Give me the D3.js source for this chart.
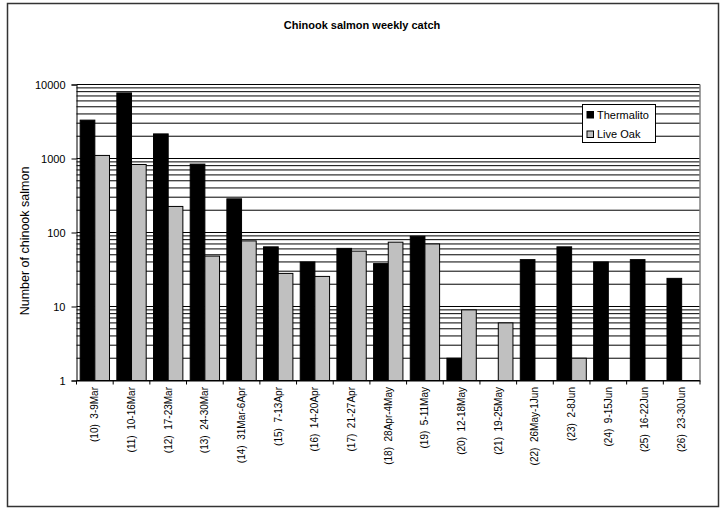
<!DOCTYPE html>
<html>
<head>
<meta charset="utf-8">
<script src="https://cdn.jsdelivr.net/npm/d3@7"></script>
<style>
  html, body { margin: 0; padding: 0; background: #fff; }
  svg { display: block; font-family: Arial, "Liberation Sans", sans-serif; }
</style>
</head>
<body>
<svg id="chart" width="720" height="508"></svg>
<script>
const categories = [
  "(10)  3-9Mar", "(11)  10-16Mar", "(12)  17-23Mar", "(13)  24-30Mar",
  "(14)  31Mar-6Apr", "(15)  7-13Apr", "(16)  14-20Apr", "(17)  21-27Apr",
  "(18)  28Apr-4May", "(19)  5-11May", "(20)  12-18May", "(21)  19-25May",
  "(22)  26May-1Jun", "(23)  2-8Jun", "(24)  9-15Jun", "(25)  16-22Jun",
  "(26)  23-30Jun"
];
const thermalito = [3300, 7700, 2150, 840, 285, 64, 40, 61, 38, 89, 2, null, 43, 64, 40, 43, 24];
const liveOak    = [1100, 830, 225, 48, 77, 28, 25.5, 56, 74, 70, 9, 6, null, 2, null, null, null];
const seriesNames = ["Thermalito", "Live Oak"];
const seriesColors = ["#000000", "#c0c0c0"];
const yTicks = [1, 10, 100, 1000, 10000];
const titleText = "Chinook salmon weekly catch";
const yTitle = "Number of chinook salmon";

(function () {
const svg = d3.select("#chart");

// outer border
svg.append("rect")
  .attr("x", 7.5).attr("y", 3.5).attr("width", 711).attr("height", 503)
  .attr("fill", "#fff").attr("stroke", "#333").attr("stroke-width", 1.5);

const pL = 76.5, pR = 700, pT = 84.5, pB = 380.5;

const y = d3.scaleLog().domain([1, 10000]).range([pB, pT]);
const x = d3.scaleBand().domain(categories).range([pL, pR]).paddingInner(0).paddingOuter(0);
const bw = x.bandwidth();

// plot background
svg.append("rect").attr("x", pL).attr("y", pT).attr("width", pR - pL).attr("height", pB - pT).attr("fill", "#fff");

// gridlines (major + minor)
const gridVals = [];
[1, 10, 100, 1000].forEach(d => { for (let k = 1; k <= 9; k++) gridVals.push(d * k); });
gridVals.push(10000);
svg.append("g").selectAll("line").data(gridVals).join("line")
  .attr("x1", pL).attr("x2", pR)
  .attr("y1", d => y(d)).attr("y2", d => y(d))
  .attr("stroke", "#000").attr("stroke-width", 1);

// plot right border
svg.append("line").attr("x1", pR).attr("x2", pR).attr("y1", pT).attr("y2", pB)
  .attr("stroke", "#808080").attr("stroke-width", 1.5);

// bars
const series = [thermalito, liveOak];
series.forEach((vals, si) => {
  svg.append("g").selectAll("rect")
    .data(vals.map((v, i) => ({ v, c: categories[i] })).filter(d => d.v != null))
    .join("rect")
    .attr("x", d => x(d.c) + bw * (0.1 + 0.4 * si))
    .attr("width", bw * 0.4)
    .attr("y", d => y(d.v))
    .attr("height", d => pB - y(d.v))
    .attr("fill", seriesColors[si])
    .attr("stroke", "#000").attr("stroke-width", 1);
});

// y axis
const yAxis = d3.axisLeft(y).tickValues(yTicks).tickFormat(d3.format("d")).tickSize(5).tickPadding(6);
const gy = svg.append("g").attr("transform", `translate(${pL},0)`).call(yAxis);
gy.select(".domain").attr("stroke", "#000");
gy.selectAll(".tick line").attr("stroke", "#000");
gy.selectAll("text").attr("font-size", 11).attr("fill", "#000").attr("font-family", "Arial, 'Liberation Sans', sans-serif");

// x axis
const xAxis = d3.axisBottom(x).tickSize(0).tickFormat("");
const gx = svg.append("g").attr("transform", `translate(0,${pB})`).call(xAxis);
gx.select(".domain").attr("stroke", "#000");
// tick marks at category boundaries
const bounds = categories.map(c => x(c)).concat([pR]);
svg.append("g").selectAll("line").data(bounds).join("line")
  .attr("x1", d => d).attr("x2", d => d)
  .attr("y1", pB).attr("y2", pB + 4)
  .attr("stroke", "#000");
// category labels rotated
svg.append("g").selectAll("text").data(categories).join("text")
  .attr("transform", d => `translate(${x(d) + bw / 2 + 3.5},387) rotate(-90)`)
  .attr("text-anchor", "end")
  .attr("font-size", 10)
  .attr("fill", "#000")
  .style("white-space", "pre")
  .attr("xml:space", "preserve")
  .text(d => d);

// y title
svg.append("text")
  .attr("transform", `translate(29,241) rotate(-90)`)
  .attr("text-anchor", "middle")
  .attr("font-size", 12.5)
  .attr("fill", "#000")
  .text(yTitle);

// title
svg.append("text")
  .attr("x", 362).attr("y", 29)
  .attr("text-anchor", "middle")
  .attr("font-size", 11).attr("font-weight", "bold")
  .attr("fill", "#000")
  .text(titleText);

// legend
const lg = svg.append("g");
lg.append("rect").attr("x", 582.5).attr("y", 104.5).attr("width", 73).attr("height", 38)
  .attr("fill", "#fff").attr("stroke", "#000").attr("stroke-width", 1);
seriesNames.forEach((n, i) => {
  const cy = 114.5 + i * 19.5;
  lg.append("rect").attr("x", 587).attr("y", cy - 3).attr("width", 6.5).attr("height", 6.5)
    .attr("fill", seriesColors[i]).attr("stroke", "#000").attr("stroke-width", 1);
  lg.append("text").attr("x", 597).attr("y", cy + 4)
    .attr("font-size", 11).attr("fill", "#000").text(n);
});
})();
</script>
</body>
</html>
